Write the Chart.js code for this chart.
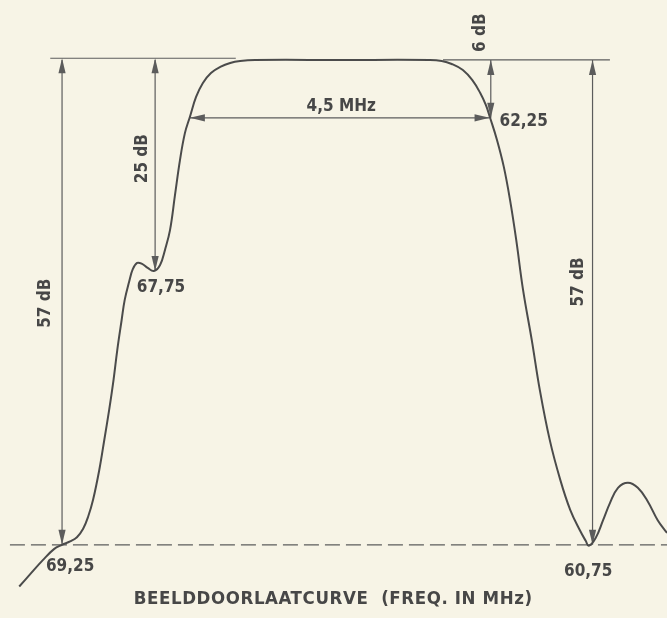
<!DOCTYPE html>
<html>
<head>
<meta charset="utf-8">
<script src="https://cdn.jsdelivr.net/npm/chart.js@4"></script>
<style>
  html, body { margin: 0; padding: 0; background: #f7f4e6; }
  #wrap { width: 667px; height: 618px; }
</style>
</head>
<body>
<div id="wrap"><canvas id="curve" width="667" height="618"></canvas></div>
<script>
// Beelddoorlaatcurve - frequentie (MHz) tegen niveau (dB)
const freqMHz = [69.94, 69.77, 69.56, 69.38, 69.25, 69.12, 69.01, 68.91, 68.83, 68.75,
  68.65, 68.57, 68.49, 68.42, 68.36, 68.29, 68.24, 68.17,
  68.11, 68.04, 67.96, 67.87, 67.77, 67.67, 67.59, 67.51, 67.43, 67.35, 67.27, 67.19,
  67.09, 66.98, 66.85, 66.70, 66.54, 66.38, 66.14, 64.77, 63.32,
  63.13, 62.97, 62.79, 62.64, 62.51, 62.42, 62.35,
  62.24, 62.13, 62.03, 61.93, 61.82, 61.68, 61.55, 61.39, 61.22, 61.06, 60.90, 60.81, 60.76,
  60.65, 60.53, 60.42, 60.29, 60.13, 59.97, 59.81, 59.65, 59.50];
const levelDb = [-61.9, -60.5, -58.8, -57.5, -57.0, -56.6, -56.1, -55.1, -53.7, -51.7,
  -48.2, -44.7, -41.1, -37.6, -34.1, -30.6, -28.2, -26.1,
  -24.6, -23.86, -23.97, -24.44, -24.8, -24.1, -22.3, -20.0, -15.9, -11.8, -8.6, -6.7,
  -4.35, -2.7, -1.53, -0.82, -0.35, -0.12, 0, 0, 0,
  -0.12, -0.47, -1.18, -2.35, -3.88, -5.29, -6.82,
  -9.4, -12.57, -16.45, -21.15, -27.03, -32.9, -38.78, -44.66, -49.36, -52.88, -55.35, -56.53, -57.1,
  -56.2, -54.1, -52.1, -50.3, -49.7, -50.3, -51.9, -54.1, -55.6];

// maatvoering
const topDb = 0;
const floorDb = -57;
const shoulderDb = -24.8;
const bandDb = -6.8;
const markLeft = 69.25, markShoulder = 67.75, markBandLo = 67.19, markBandHi = 62.36, markRight = 60.70;

const ink = '#4b4b4b';
const dimInk = '#5c5c5c';
const labelFont = 'bold 17px "DejaVu Sans Condensed", Roboto, sans-serif';

function arrowHead(ctx, x, y, dir) {
    // dir: 'up', 'down', 'left', 'right' - tip op (x, y)
    const len = 15, half = 3.6;
    ctx.beginPath();
    ctx.moveTo(x, y);
    if (dir === 'up') { ctx.lineTo(x - half, y + len); ctx.lineTo(x + half, y + len); }
    if (dir === 'down') { ctx.lineTo(x - half, y - len); ctx.lineTo(x + half, y - len); }
    if (dir === 'left') { ctx.lineTo(x + len, y - half); ctx.lineTo(x + len, y + half); }
    if (dir === 'right') { ctx.lineTo(x - len, y - half); ctx.lineTo(x - len, y + half); }
    ctx.closePath();
    ctx.fill();
}

function line(ctx, x1, y1, x2, y2) {
    ctx.beginPath();
    ctx.moveTo(x1, y1);
    ctx.lineTo(x2, y2);
    ctx.stroke();
}

function vText(ctx, txt, x, y) {
    ctx.save();
    ctx.translate(x, y);
    ctx.rotate(-Math.PI / 2);
    ctx.fillText(txt, 0, 0);
    ctx.restore();
}

const paperPlugin = {
    id: 'paper',
    beforeDraw(chart) {
        const ctx = chart.ctx;
        ctx.save();
        ctx.fillStyle = '#f7f4e6';
        ctx.fillRect(0, 0, chart.width, chart.height);
        ctx.restore();
    }
};

const dimensionPlugin = {
    id: 'dimensions',
    beforeDatasetsDraw(chart) {
        const ctx = chart.ctx;
        const xs = chart.scales.x, ys = chart.scales.y;
        const px = v => xs.getPixelForValue(v);
        const py = v => ys.getPixelForValue(v);
        ctx.save();
        ctx.strokeStyle = dimInk;
        ctx.fillStyle = dimInk;
        ctx.lineWidth = 1.2;

        // bovenste referentielijnen
        line(ctx, px(69.44), py(0.2), px(66.45), py(0.2));
        line(ctx, px(63.11), py(topDb), px(60.42), py(topDb));

        // gestippelde -57 dB lijn
        ctx.setLineDash([15, 6]);
        line(ctx, px(70.09), py(floorDb), px(59.5), py(floorDb));
        ctx.setLineDash([]);

        // 57 dB links
        line(ctx, px(markLeft), py(topDb), px(markLeft), py(floorDb));
        arrowHead(ctx, px(markLeft), py(0.2), 'up');
        arrowHead(ctx, px(markLeft), py(floorDb), 'down');

        // 25 dB
        line(ctx, px(markShoulder), py(topDb), px(markShoulder), py(shoulderDb));
        arrowHead(ctx, px(markShoulder), py(0.2), 'up');
        arrowHead(ctx, px(markShoulder), py(shoulderDb), 'down');

        // 4,5 MHz
        line(ctx, px(markBandLo), py(bandDb), px(markBandHi), py(bandDb));
        arrowHead(ctx, px(markBandLo), py(bandDb), 'left');
        arrowHead(ctx, px(markBandHi), py(bandDb), 'right');

        // 6 dB
        line(ctx, px(62.34), py(topDb), px(62.34), py(bandDb));
        arrowHead(ctx, px(62.34), py(topDb), 'up');
        arrowHead(ctx, px(62.34), py(bandDb), 'down');

        // 57 dB rechts
        line(ctx, px(markRight), py(topDb), px(markRight), py(floorDb));
        arrowHead(ctx, px(markRight), py(topDb), 'up');
        arrowHead(ctx, px(markRight), py(floorDb), 'down');

        // teksten
        ctx.fillStyle = '#474747';
        ctx.font = labelFont;
        ctx.textAlign = 'center';
        ctx.textBaseline = 'middle';
        vText(ctx, '57 dB', px(69.52), py(-28.6));
        vText(ctx, '25 dB', px(67.96), py(-11.6));
        vText(ctx, '6 dB', px(62.51), py(3.2));
        vText(ctx, '57 dB', px(60.93), py(-26.1));
        ctx.fillText('4,5 MHz', px(64.75), py(-5.5));
        ctx.fillText('67,75', px(67.655), py(-26.8));
        ctx.fillText('62,25', px(61.81), py(-7.3));
        ctx.fillText('69,25', px(69.12), py(-59.5));
        ctx.fillText('60,75', px(60.77), py(-60.1));

        ctx.font = 'bold 18.5px "DejaVu Sans Condensed", Roboto, sans-serif';
        ctx.letterSpacing = '0.6px';
        ctx.fillText('BEELDDOORLAATCURVE  (FREQ. IN MHz)', px(64.88), py(-63.4));
        ctx.restore();
    }
};

new Chart(document.getElementById('curve'), {
    type: 'line',
    data: {
        datasets: [{
            data: freqMHz.map((f, i) => ({ x: f, y: levelDb[i] })),
            borderColor: ink,
            borderWidth: 2,
            pointRadius: 0,
            tension: 0.4,
            fill: false
        }]
    },
    options: {
        responsive: false,
        animation: false,
        layout: { padding: 0 },
        plugins: { legend: { display: false }, tooltip: { enabled: false } },
        scales: {
            x: { type: 'linear', reverse: true, min: 59.5, max: 70.25, display: false },
            y: { type: 'linear', min: -65.6, max: 7.05, display: false }
        }
    },
    plugins: [paperPlugin, dimensionPlugin]
});
</script>
</body>
</html>
